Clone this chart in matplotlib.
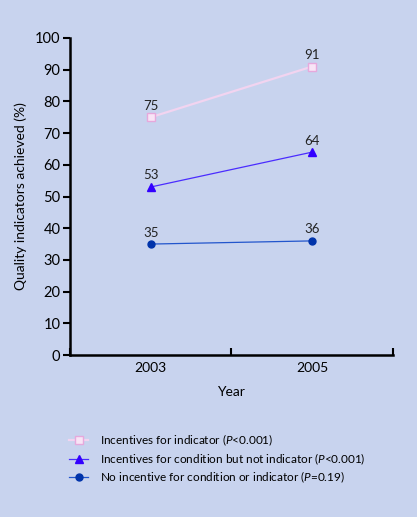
import matplotlib
matplotlib.use("Agg")
import matplotlib.pyplot as plt
from matplotlib.lines import Line2D

years = ["2003", "2005"]
incent_indicator = [75, 91]
incent_condition = [53, 64]
no_incentive = [35, 36]
labels = [
    r"Incentives for indicator ($\it{P}$<0.001)",
    r"Incentives for condition but not indicator ($\it{P}$<0.001)",
    r"No incentive for condition or indicator ($\it{P}$=0.19)",
]

BG = "#c8d3ee"
plt.rcParams["font.family"] = ["Lato", "DejaVu Sans"]
plt.rcParams["mathtext.fontset"] = "custom"
plt.rcParams["mathtext.it"] = "Lato:italic"
plt.rcParams["mathtext.rm"] = "Lato"

fig = plt.figure(figsize=(4.17, 5.17), dpi=100, facecolor=BG)
ax = fig.add_axes([0.168, 0.3133, 0.774, 0.6132], facecolor=BG)

xpos = [0.5, 1.5]
styles = [
    dict(color="#f2d4f0", marker="s", mfc="#f8e4f6", mec="#e6a8dc", ms=5.5, lw=1.6),
    dict(color="#4a2cff", marker="^", mfc="#3300ff", mec="#3300ff", ms=5.5, lw=0.9),
    dict(color="#2255cc", marker="o", mfc="#0033aa", mec="#0033aa", ms=5, lw=0.9),
]
series = [incent_indicator, incent_condition, no_incentive]
handles = []
for vals, st, lab in zip(series, styles, labels):
    ax.plot(xpos, vals, **st)
    for x, v in zip(xpos, vals):
        ax.annotate(str(v), (x, v), xytext=(0, 4), textcoords="offset points",
                    ha="center", va="bottom", fontsize=9.5, color="#222222")
    handles.append(Line2D([], [], label=lab, **st))

ax.set_xlim(0, 2)
ax.set_ylim(0, 100)
ax.set_yticks(range(0, 101, 10))
ax.set_xticks([0, 1, 2])
ax.set_xticklabels([])
ax.set_xticks(xpos, minor=True)
ax.set_xticklabels(years, minor=True)
ax.tick_params(axis="x", which="major", direction="in", length=5, width=1.5)
ax.tick_params(axis="x", which="minor", length=0, pad=5, labelsize=10)
ax.tick_params(axis="y", direction="out", length=5, width=1.5, labelsize=10.5, pad=2)
for s in ["top", "right"]:
    ax.spines[s].set_visible(False)
for s in ["left", "bottom"]:
    ax.spines[s].set_linewidth(1.8)
ax.set_xlabel("Year", fontsize=10, labelpad=9)
ax.set_ylabel("Quality indicators achieved (%)", fontsize=10, labelpad=6)

fig.legend(handles=handles, loc="upper left", bbox_to_anchor=(0.155, 0.172),
           frameon=False, fontsize=8.5, handlelength=1.6, labelspacing=0.25,
           handletextpad=1.0, borderaxespad=0)

fig.savefig("out.png", dpi=100, facecolor=BG)
